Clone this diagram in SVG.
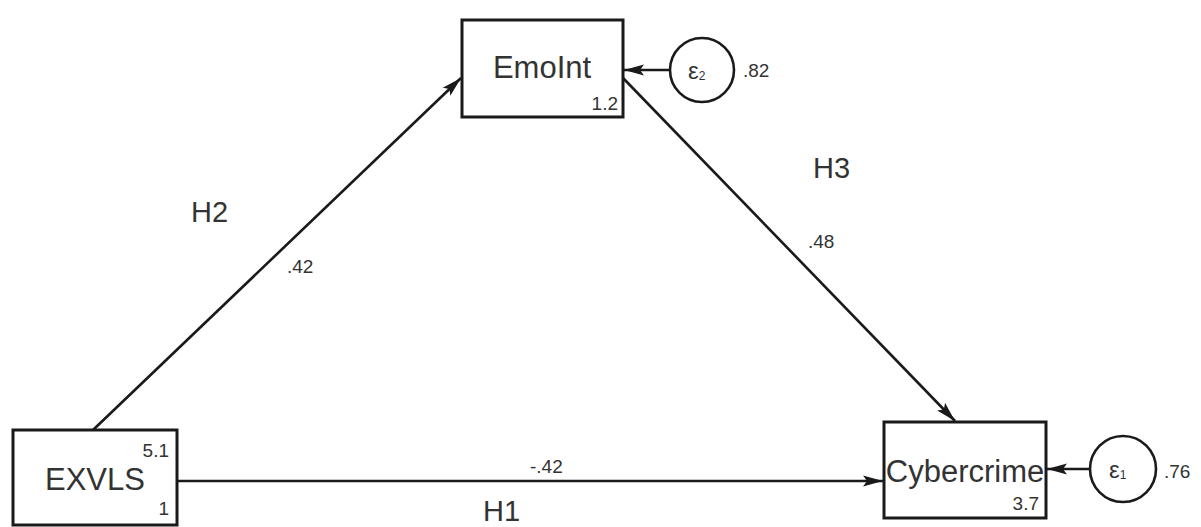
<svg xmlns="http://www.w3.org/2000/svg" width="1201" height="527" viewBox="0 0 1201 527">
<style>
.box{fill:#fff;stroke:#1a1a1a;stroke-width:3}
.circ{fill:#fff;stroke:#1a1a1a;stroke-width:2.6}
.edge{fill:none;stroke:#1a1a1a;stroke-width:2.6}
.name{font-family:"Liberation Sans",Arial,sans-serif;font-size:31px;fill:#333;text-anchor:middle}
.num{font-family:"Liberation Sans",Arial,sans-serif;font-size:19px;fill:#333}
.hyp{font-family:"Liberation Sans",Arial,sans-serif;font-size:29px;fill:#333}
.eps{font-family:"Liberation Sans",Arial,sans-serif;font-size:24px;fill:#333}
.sub{font-size:12px}
</style>
<defs>
<marker id="arr" markerUnits="userSpaceOnUse" markerWidth="22" markerHeight="12" refX="20" refY="6" orient="auto">
<path d="M0,0.5 L20,6 L0,11.5 L4,6 z" fill="#1a1a1a"/>
</marker>
</defs>
<rect width="1201" height="527" fill="#fff"/>
<g id="connectors">
<line class="edge" x1="93" y1="430" x2="461" y2="78" marker-end="url(#arr)"/>
<line class="edge" x1="623" y1="78" x2="955" y2="421" marker-end="url(#arr)"/>
<line class="edge" x1="177" y1="481" x2="883" y2="481" marker-end="url(#arr)"/>
<line class="edge" x1="670" y1="70" x2="624" y2="70" marker-end="url(#arr)"/>
<line class="edge" x1="1090" y1="469" x2="1047" y2="469" marker-end="url(#arr)"/>
<text class="num" x="287" y="273">.42</text>
<text class="num" x="808" y="248">.48</text>
<text class="num" x="530" y="473">-.42</text>
</g>
<g id="hypotheses">
<text class="hyp" x="191" y="222">H2</text>
<text class="hyp" x="813" y="178">H3</text>
<text class="hyp" x="483" y="521">H1</text>
</g>
<g id="EmoInt">
<rect class="box" x="462" y="20" width="161" height="97"/>
<text class="name" x="542" y="78">EmoInt</text>
<text class="num" x="618" y="110" text-anchor="end">1.2</text>
</g>
<g id="EXVLS">
<rect class="box" x="13" y="430" width="164" height="95"/>
<text class="name" x="95" y="490">EXVLS</text>
<text class="num" x="169" y="457" text-anchor="end">5.1</text>
<text class="num" x="169" y="515" text-anchor="end">1</text>
</g>
<g id="Cybercrime">
<rect class="box" x="884" y="422" width="162" height="96"/>
<text class="name" x="965" y="482">Cybercrime</text>
<text class="num" x="1039" y="510" text-anchor="end">3.7</text>
</g>
<g id="e2">
<circle class="circ" cx="702" cy="70" r="32"/>
<text class="eps" x="688" y="79">ε<tspan class="sub" dy="1">2</tspan></text>
<text class="num" x="743" y="77">.82</text>
</g>
<g id="e1">
<circle class="circ" cx="1123" cy="469" r="33"/>
<text class="eps" x="1109" y="478">ε<tspan class="sub" dy="1">1</tspan></text>
<text class="num" x="1164" y="478">.76</text>
</g>
</svg>
